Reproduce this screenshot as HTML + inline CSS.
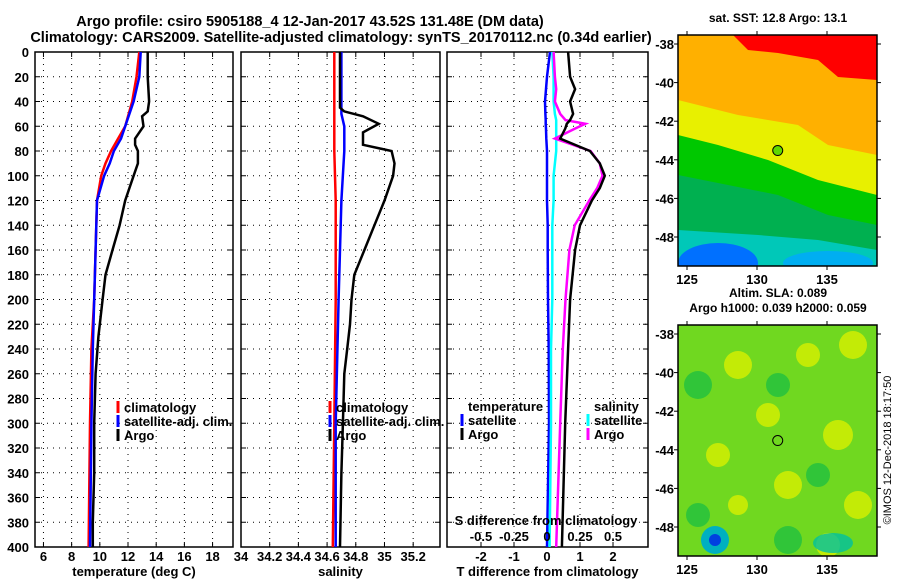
<!DOCTYPE html>
<html><head><meta charset="utf-8"><style>
body{margin:0;background:#fff;width:900px;height:580px;overflow:hidden}
svg{font-family:"Liberation Sans",sans-serif;font-weight:bold}
</style></head><body>
<svg id="c" width="900" height="580">
<text x="310" y="26" font-size="14.5" text-anchor="middle">Argo profile: csiro 5905188_4 12-Jan-2017 43.52S 131.48E (DM data)</text>
<text x="341" y="42" font-size="14.5" text-anchor="middle">Climatology: CARS2009. Satellite-adjusted climatology: synTS_20170112.nc (0.34d earlier)</text>
<g id="maps"></g>
<text transform="translate(891,450) rotate(-90)" font-size="11" font-weight="normal" text-anchor="middle">©IMOS 12-Dec-2018 18:17:50</text>
</svg>
<script>
const depths=[0,20,40,48,52,60,70,75,80,90,100,110,120,140,160,180,200,230,260,300,340,380,400];
const tArgo=[13.4,13.4,13.5,13.4,13.0,13.1,12.5,12.5,12.7,12.7,12.4,12.1,11.8,11.4,10.9,10.4,10.2,9.9,9.7,9.6,9.6,9.5,9.5];
const cDepths=[0,20,40,60,70,80,90,100,120,160,200,240,300,400];
const tClim=[12.8,12.6,12.3,11.8,11.3,10.8,10.4,10.1,9.8,9.7,9.6,9.4,9.3,9.2];
const tSat=[12.9,12.8,12.4,11.8,11.5,11.0,10.7,10.3,9.8,9.7,9.6,9.5,9.4,9.3];
const sDepths=[0,45,48,52,58,65,75,80,90,100,120,140,160,180,200,220,240,260,300,340,400];
const sArgo=[34.69,34.69,34.72,34.85,34.96,34.85,34.85,35.05,35.07,35.06,35.00,34.93,34.86,34.79,34.77,34.76,34.74,34.72,34.71,34.70,34.69];
const scDepths=[0,50,60,80,120,200,300,400];
const sClim=[34.65,34.65,34.65,34.65,34.66,34.66,34.65,34.64];
const sSat=[34.70,34.70,34.72,34.72,34.70,34.68,34.66,34.66];
const dDepths=[0,20,30,40,50,55,58,62,70,80,90,100,110,120,140,160,200,240,300,400];
const dT=[0.64,0.70,0.85,0.70,0.79,0.70,0.60,0.55,0.40,1.30,1.60,1.75,1.60,1.36,1.00,0.85,0.70,0.64,0.55,0.45];
const dS=[0.05,0.06,0.07,0.06,0.10,0.14,0.29,0.21,0.06,0.33,0.40,0.42,0.38,0.32,0.21,0.17,0.14,0.12,0.10,0.07];
const dTsat=[0.09,0,-0.03,-0.06,-0.05,-0.04,-0.04,-0.03,-0.02,0,0,0,0,0,0.02,0.02,0.03,0.05,0.06,0];
const dSsat=[0.04,0.05,0.05,0.05,0.06,0.07,0.07,0.07,0.07,0.07,0.06,0.05,0.05,0.05,0.04,0.04,0.04,0.03,0.03,0.02];
const yTicks=[0,20,40,60,80,100,120,140,160,180,200,220,240,260,280,300,320,340,360,380,400];
const tTicks=[6,8,10,12,14,16,18];
const sTicks=[34,34.2,34.4,34.6,34.8,35,35.2];
const dTicks=[-2,-1,0,1,2];
const dSTickLabels=['-0.5','-0.25','0','0.25','0.5'];

const NS='http://www.w3.org/2000/svg',svg=document.getElementById('c');
function mk(t,a,p){const e=document.createElementNS(NS,t);for(const k in a)e.setAttribute(k,a[k]);(p||svg).appendChild(e);return e;}
const top0=52,bot=547;
const yS=d=>top0+(bot-top0)*d/400;
const panels=[
 {x0:35,x1:233,v0:5.4,v1:19.45,ticks:tTicks,name:'temperature-panel',title:'temperature (deg C)'},
 {x0:241,x1:440,v0:34,v1:35.387,ticks:sTicks,name:'salinity-panel',title:'salinity'},
 {x0:447,x1:648,v0:-3.03,v1:3.06,ticks:dTicks,name:'difference-panel',title:'T difference from climatology'}];
panels.forEach((p,i)=>{
 p.xS=v=>p.x0+(v-p.v0)/(p.v1-p.v0)*(p.x1-p.x0);
 const g=mk('g',{});
 
 
 p.g=g;
 p.ticks.forEach((t,j)=>{const x=p.xS(t);
  mk('line',{x1:x,x2:x,y1:top0,y2:bot,stroke:'#000','stroke-dasharray':'1 5'},g);
  mk('line',{x1:x,x2:x,y1:top0,y2:top0+5,stroke:'#000'},g);
  mk('line',{x1:x,x2:x,y1:bot,y2:bot-5,stroke:'#000'},g);
  const tx=mk('text',{x:x,y:561,'font-size':13,'text-anchor':'middle'},g);tx.textContent=t;
  
  
 });
 yTicks.forEach(d=>{const y=yS(d);
  if(d>0&&d<400)mk('line',{x1:p.x0,x2:p.x1,y1:y,y2:y,stroke:'#000','stroke-dasharray':'1 5'},g);
  mk('line',{x1:p.x0,x2:p.x0+5,y1:y,y2:y,stroke:'#000'},g);
  mk('line',{x1:p.x1,x2:p.x1-5,y1:y,y2:y,stroke:'#000'},g);
  if(i==0){const tx=mk('text',{x:29,y:y+5,'font-size':13,'text-anchor':'end'},g);tx.textContent=d;
   
   }
 });
 mk('rect',{x:p.x0,y:top0,width:p.x1-p.x0,height:bot-top0,fill:'none',stroke:'#000','stroke-width':1.5},g);
 const tt=mk('text',{x:(p.x0+p.x1)/2,y:576,'font-size':13,'text-anchor':'middle'},g);tt.textContent=p.title;
 
 
});
function line(p,ds,vs,col,name,xf){
 const f=xf||p.xS;
 const pts=ds.map((d,i)=>f(vs[i]).toFixed(1)+','+yS(d).toFixed(1)).join(' ');
 const e=mk('polyline',{points:pts,fill:'none',stroke:col,'stroke-width':2.5},p.g);
 
 
}
const P=panels;
line(P[0],cDepths,tClim,'#f00','temp-climatology-line');
line(P[0],cDepths,tSat,'#00f','temp-satellite-line');
line(P[0],depths,tArgo,'#000','temp-argo-line');
line(P[1],scDepths,sClim,'#f00','sal-climatology-line');
line(P[1],scDepths,sSat,'#00f','sal-satellite-line');
line(P[1],sDepths,sArgo,'#000','sal-argo-line');
const sx=v=>P[2].xS(v*4);
line(P[2],dDepths,dTsat,'#00f','tdiff-satellite-line');
line(P[2],dDepths,dSsat,'#0ff','sdiff-satellite-line',sx);
line(P[2],dDepths,dS,'#f0f','sdiff-argo-line',sx);
line(P[2],dDepths,dT,'#000','tdiff-argo-line');
dTicks.forEach((t,j)=>{const tx=mk('text',{x:P[2].xS(t),y:541,'font-size':13,'text-anchor':'middle'},P[2].g);tx.textContent=dSTickLabels[j];
 
 });
const st=mk('text',{x:546,y:525,'font-size':13,'text-anchor':'middle'},P[2].g);st.textContent='S difference from climatology';


function leg(x,y,col,label,name){
 const g=mk('g',{});
 
 
 if(col)mk('line',{x1:x,x2:x,y1:y-11,y2:y+1,stroke:col,'stroke-width':3},g);
 const t=mk('text',{x:x+(col?6:0),y:y,'font-size':13},g);t.textContent=label;
}
leg(118,412,'#f00','climatology','legend-climatology');
leg(118,426,'#00f','satellite-adj. clim.','legend-satellite');
leg(118,440,'#000','Argo','legend-argo');
leg(330,412,'#f00','climatology','legend-climatology-2');
leg(330,426,'#00f','satellite-adj. clim.','legend-satellite-2');
leg(330,440,'#000','Argo','legend-argo-2');
leg(468,411,null,'temperature','legend-temperature-header');
leg(462,425,'#00f','satellite','legend-t-satellite');
leg(462,439,'#000','Argo','legend-t-argo');
leg(594,411,null,'salinity','legend-salinity-header');
leg(588,425,'#0ff','satellite','legend-s-satellite');
leg(588,439,'#f0f','Argo','legend-s-argo');

const M=document.getElementById('maps');
const lonT=[125,130,135],latT=[-38,-40,-42,-44,-46,-48];
function map(y0,h,name,fillFn,title){
 const g=mk('g',{},M);
 
 
 const x0=678,w=199;
 const cp=mk('clipPath',{id:'cp'+y0},g);
 mk('rect',{x:x0,y:y0,width:w,height:h},cp);
 const gi=mk('g',{'clip-path':'url(#cp'+y0+')'},g);
 fillFn(gi,x0,y0,w,h);
 mk('rect',{x:x0,y:y0,width:w,height:h,fill:'none',stroke:'#000','stroke-width':1.5},g);
 lonT.forEach(l=>{const x=687+(l-125)*14;
  mk('line',{x1:x,x2:x,y1:y0,y2:y0-4,stroke:'#000'},g);
  mk('line',{x1:x,x2:x,y1:y0+h,y2:y0+h+4,stroke:'#000'},g);
  const t=mk('text',{x:x,y:y0+h+18,'font-size':13,'text-anchor':'middle'},g);t.textContent=l;});
 latT.forEach(l=>{const y=y0+9+(-38-l)*19.3;
  mk('line',{x1:x0,x2:x0-4,y1:y,y2:y,stroke:'#000'},g);
  mk('line',{x1:x0+w,x2:x0+w+4,y1:y,y2:y,stroke:'#000'},g);
  const t=mk('text',{x:x0-4,y:y+5,'font-size':13,'text-anchor':'end'},g);t.textContent=l;});
 const cx=687+(131.48-125)*14, cy=y0+9+5.52*19.3;
 if(name==='sst-map')mk('circle',{cx:cx,cy:cy,r:5,fill:'#60d800'},g);
 const c=mk('circle',{cx:cx,cy:cy,r:5,fill:'none',stroke:'#000'},g);
 
 
 title.forEach((s,i)=>{const t=mk('text',{x:778,y:y0-13-(title.length-1-i)*15,'font-size':12,'text-anchor':'middle'},g);t.textContent=s;});
}
map(35,231,'sst-map',(g,x,y,w,h)=>{
 mk('rect',{x:x,y:y,width:w,height:h,fill:'#00c8b8'},g);
 const band=(pts,col)=>mk('polygon',{points:pts.map(p=>(x+p[0])+','+(y+p[1])).join(' '),fill:col},g);
 band([[0,0],[199,0],[199,215],[140,205],[80,200],[0,195]],'#00b050');
 band([[0,0],[199,0],[199,190],[150,180],[100,160],[50,150],[0,140]],'#00c800');
 band([[0,0],[199,0],[199,160],[140,145],[90,125],[40,110],[0,100]],'#e8f000');
 band([[0,0],[199,0],[199,120],[150,110],[120,90],[60,80],[0,65]],'#ffb000');
 band([[55,0],[199,0],[199,45],[160,42],[140,25],[100,18],[70,15]],'#f00');
 mk('ellipse',{cx:x+40,cy:y+228,rx:40,ry:20,fill:'#0070ff'},g);
 mk('ellipse',{cx:x+150,cy:y+228,rx:45,ry:12,fill:'#00a8ff',opacity:0.8},g);
},['sat. SST: 12.8 Argo: 13.1']);
map(325,231,'sla-map',(g,x,y,w,h)=>{
 mk('rect',{x:x,y:y,width:w,height:h,fill:'#70d820'},g);
 [[60,40,14],[130,30,12],[175,20,14],[90,90,12],[160,110,15],[40,130,12],[110,160,14],[180,180,14],[60,180,10],[150,220,12]].forEach(b=>mk('circle',{cx:x+b[0],cy:y+b[1],r:b[2],fill:'#d8f000',opacity:0.8},g));
 [[20,60,14],[100,60,12],[140,150,12],[20,190,12],[110,215,14]].forEach(b=>mk('circle',{cx:x+b[0],cy:y+b[1],r:b[2],fill:'#20c040',opacity:0.8},g));
 mk('circle',{cx:x+37,cy:y+215,r:14,fill:'#00b0c0'},g);
 mk('circle',{cx:x+37,cy:y+215,r:6,fill:'#0040e0'},g);
 mk('ellipse',{cx:x+155,cy:y+218,rx:20,ry:10,fill:'#00c0a0',opacity:0.8},g);
},['Altim. SLA: 0.089','Argo h1000: 0.039 h2000: 0.059']);
</script>
</body></html>
